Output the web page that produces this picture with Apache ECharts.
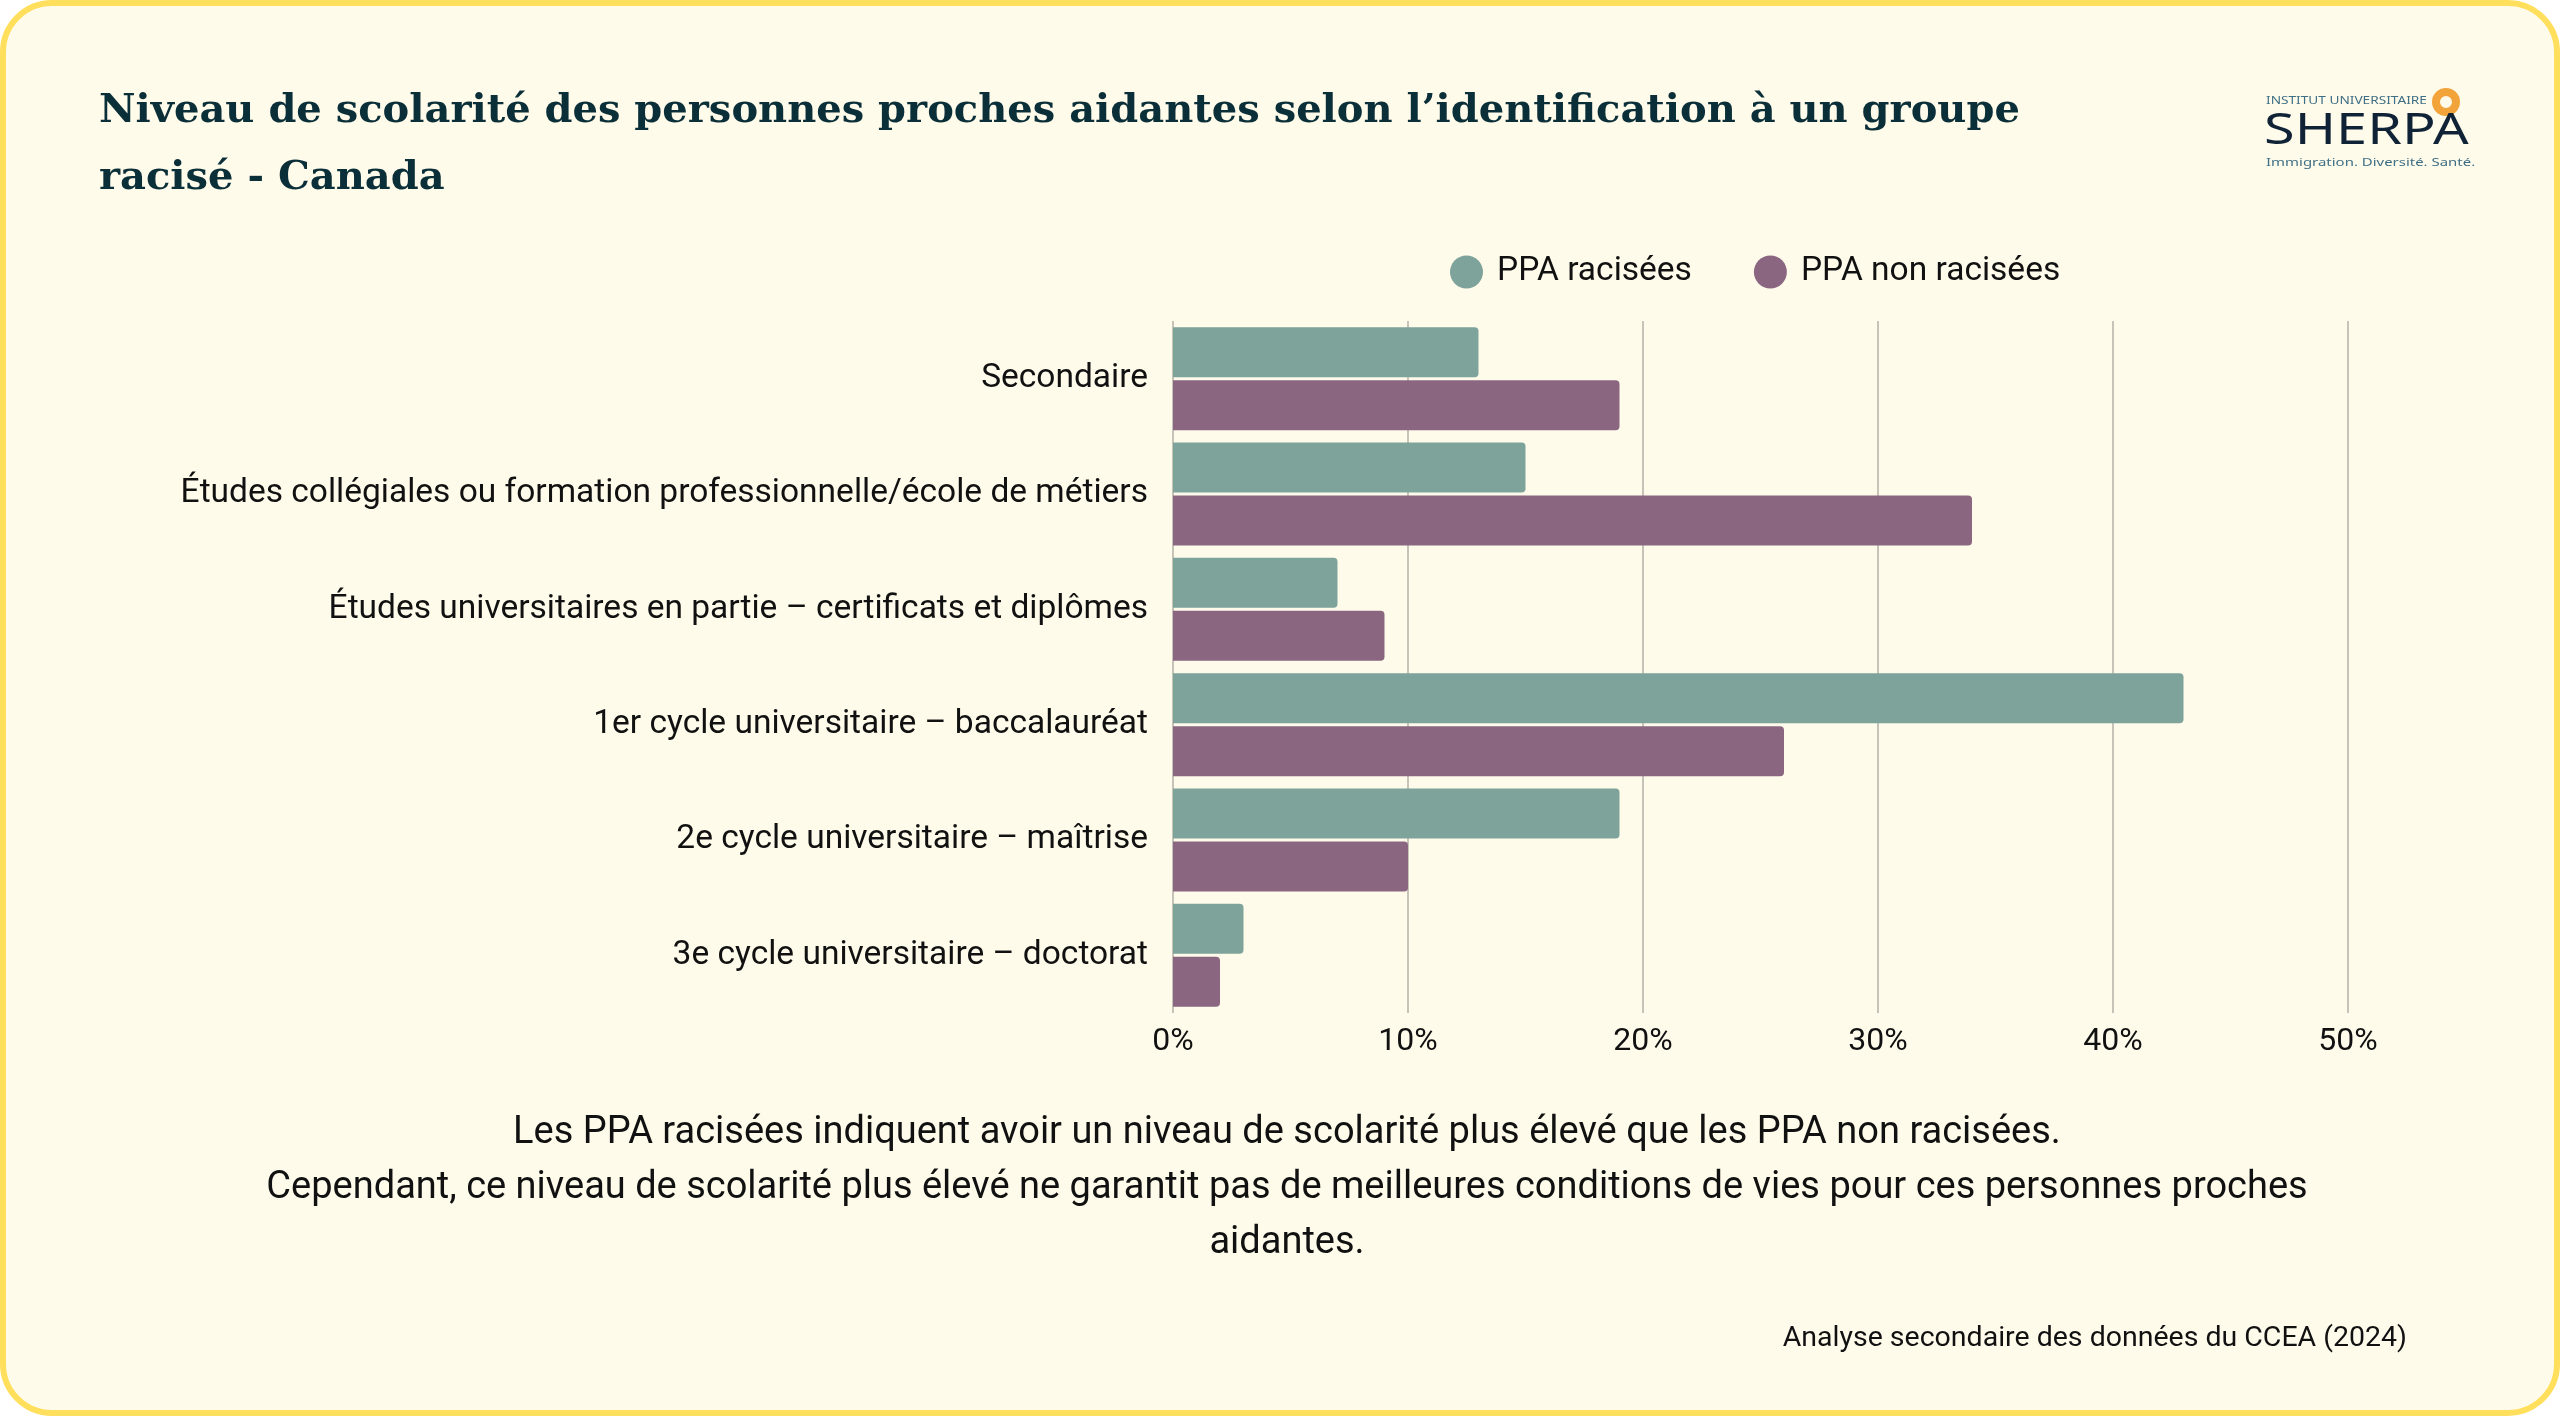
<!DOCTYPE html>
<html>
<head>
<meta charset="utf-8">
<script src="https://cdn.jsdelivr.net/npm/echarts@6/dist/echarts.min.js"></script>
<style>
html, body { margin: 0; padding: 0; background: #ffffff; }
#frame {
  position: absolute; left: 0; top: 0; width: 2560px; height: 1416px;
  box-sizing: border-box; border: 6px solid #ffdf5c; border-radius: 52px;
  background: #fffbeb;
}
#chart { position: absolute; left: 0; top: 0; width: 2560px; height: 1416px; }
</style>
</head>
<body>
<div id="frame"></div>
<div id="chart"></div>
<script>
// niveaux de scolarité
const categories = [
  'Secondaire',
  'Études collégiales ou formation professionnelle/école de métiers',
  'Études universitaires en partie – certificats et diplômes',
  '1er cycle universitaire – baccalauréat',
  '2e cycle universitaire – maîtrise',
  '3e cycle universitaire – doctorat'
]
const racisees = [13, 15, 7, 43, 19, 3]
const nonRacisees = [19, 34, 9, 26, 10, 2]
const seriesNames = ['PPA racisées', 'PPA non racisées']

const titleText = 'Niveau de scolarité des personnes proches aidantes selon l\u2019identification à un groupe\nracisé - Canada'
const noteText = 'Les PPA racisées indiquent avoir un niveau de scolarité plus élevé que les PPA non racisées.\nCependant, ce niveau de scolarité plus élevé ne garantit pas de meilleures conditions de vies pour ces personnes proches\naidantes.'
const sourceText = 'Analyse secondaire des données du CCEA (2024)'

const chart = echarts.init(document.getElementById('chart'))
const option = {
  backgroundColor: 'transparent',
  textStyle: { fontFamily: 'Roboto' },
  title: {
    text: titleText,
    left: 94,
    top: 73,
    textStyle: {
      fontFamily: 'DejaVu Serif',
      fontWeight: 'bold',
      fontSize: 40,
      lineHeight: 67,
      color: '#0b2f38'
    }
  },
  legend: {
    data: seriesNames,
    left: 1445,
    top: 250,
    icon: 'circle',
    itemWidth: 33,
    itemHeight: 33,
    itemGap: 62,
    textStyle: { fontSize: 33.5, color: '#111', padding: [0, 0, 0, 9] }
  },
  grid: {
    left: 1173,
    right: 212,
    top: 321,
    bottom: 403,
    outerBoundsMode: 'none'
  },
  xAxis: {
    type: 'value',
    min: 0,
    max: 50,
    interval: 10,
    axisLine: { show: false },
    axisTick: { show: false },
    axisLabel: {
      formatter: '{value}%',
      fontSize: 32,
      color: '#111',
      margin: 13
    },
    splitLine: { lineStyle: { color: '#c6c4b8', width: 2 } }
  },
  yAxis: {
    type: 'category',
    data: categories,
    inverse: true,
    axisLine: { show: false },
    axisTick: { show: false },
    axisLabel: { fontSize: 33.5, color: '#111', margin: 25, padding: [14, 0, 0, 0] }
  },
  series: [
    {
      name: seriesNames[0],
      type: 'bar',
      data: racisees,
      barWidth: 50,
      barGap: '6%',
      itemStyle: { color: '#7ea39b', borderRadius: [0, 4, 4, 0] }
    },
    {
      name: seriesNames[1],
      type: 'bar',
      data: nonRacisees,
      barWidth: 50,
      itemStyle: { color: '#8b6681', borderRadius: [0, 4, 4, 0] }
    }
  ],
  graphic: [
    {
      type: 'text',
      x: 1287,
      y: 1106,
      style: {
        text: noteText,
        fontFamily: 'Roboto',
        fontSize: 38,
        lineHeight: 55,
        fill: '#111',
        align: 'center'
      }
    },
    {
      type: 'text',
      x: 2407,
      y: 1324,
      style: {
        text: sourceText,
        fontFamily: 'Roboto',
        fontSize: 28.5,
        fill: '#111',
        align: 'right'
      }
    },
    // logo SHERPA
    {
      type: 'group',
      left: 2264,
      top: 88,
      children: [
        {
          type: 'ring',
          shape: { cx: 184, cy: 13, r: 14, r0: 6 },
          style: { fill: '#f2a33a' }
        },
        {
          type: 'text',
          x: 4, y: 7,
          scaleX: 1.3,
          style: { text: 'INSTITUT UNIVERSITAIRE', fontFamily: 'Noto Sans', fontSize: 10.5, fill: '#3f6f84' }
        },
        {
          type: 'text',
          x: 2, y: 20,
          scaleX: 1.27,
          style: { text: 'SHERPA', fontFamily: 'Noto Sans', fontSize: 44, fill: '#0f2236' }
        },
        {
          type: 'text',
          x: 4, y: 68,
          scaleX: 1.3,
          style: { text: 'Immigration. Diversité. Santé.', fontFamily: 'Noto Sans', fontSize: 11.5, fill: '#3f6f84' }
        }
      ]
    }
  ]
}
chart.setOption(option)
</script>
</body>
</html>
